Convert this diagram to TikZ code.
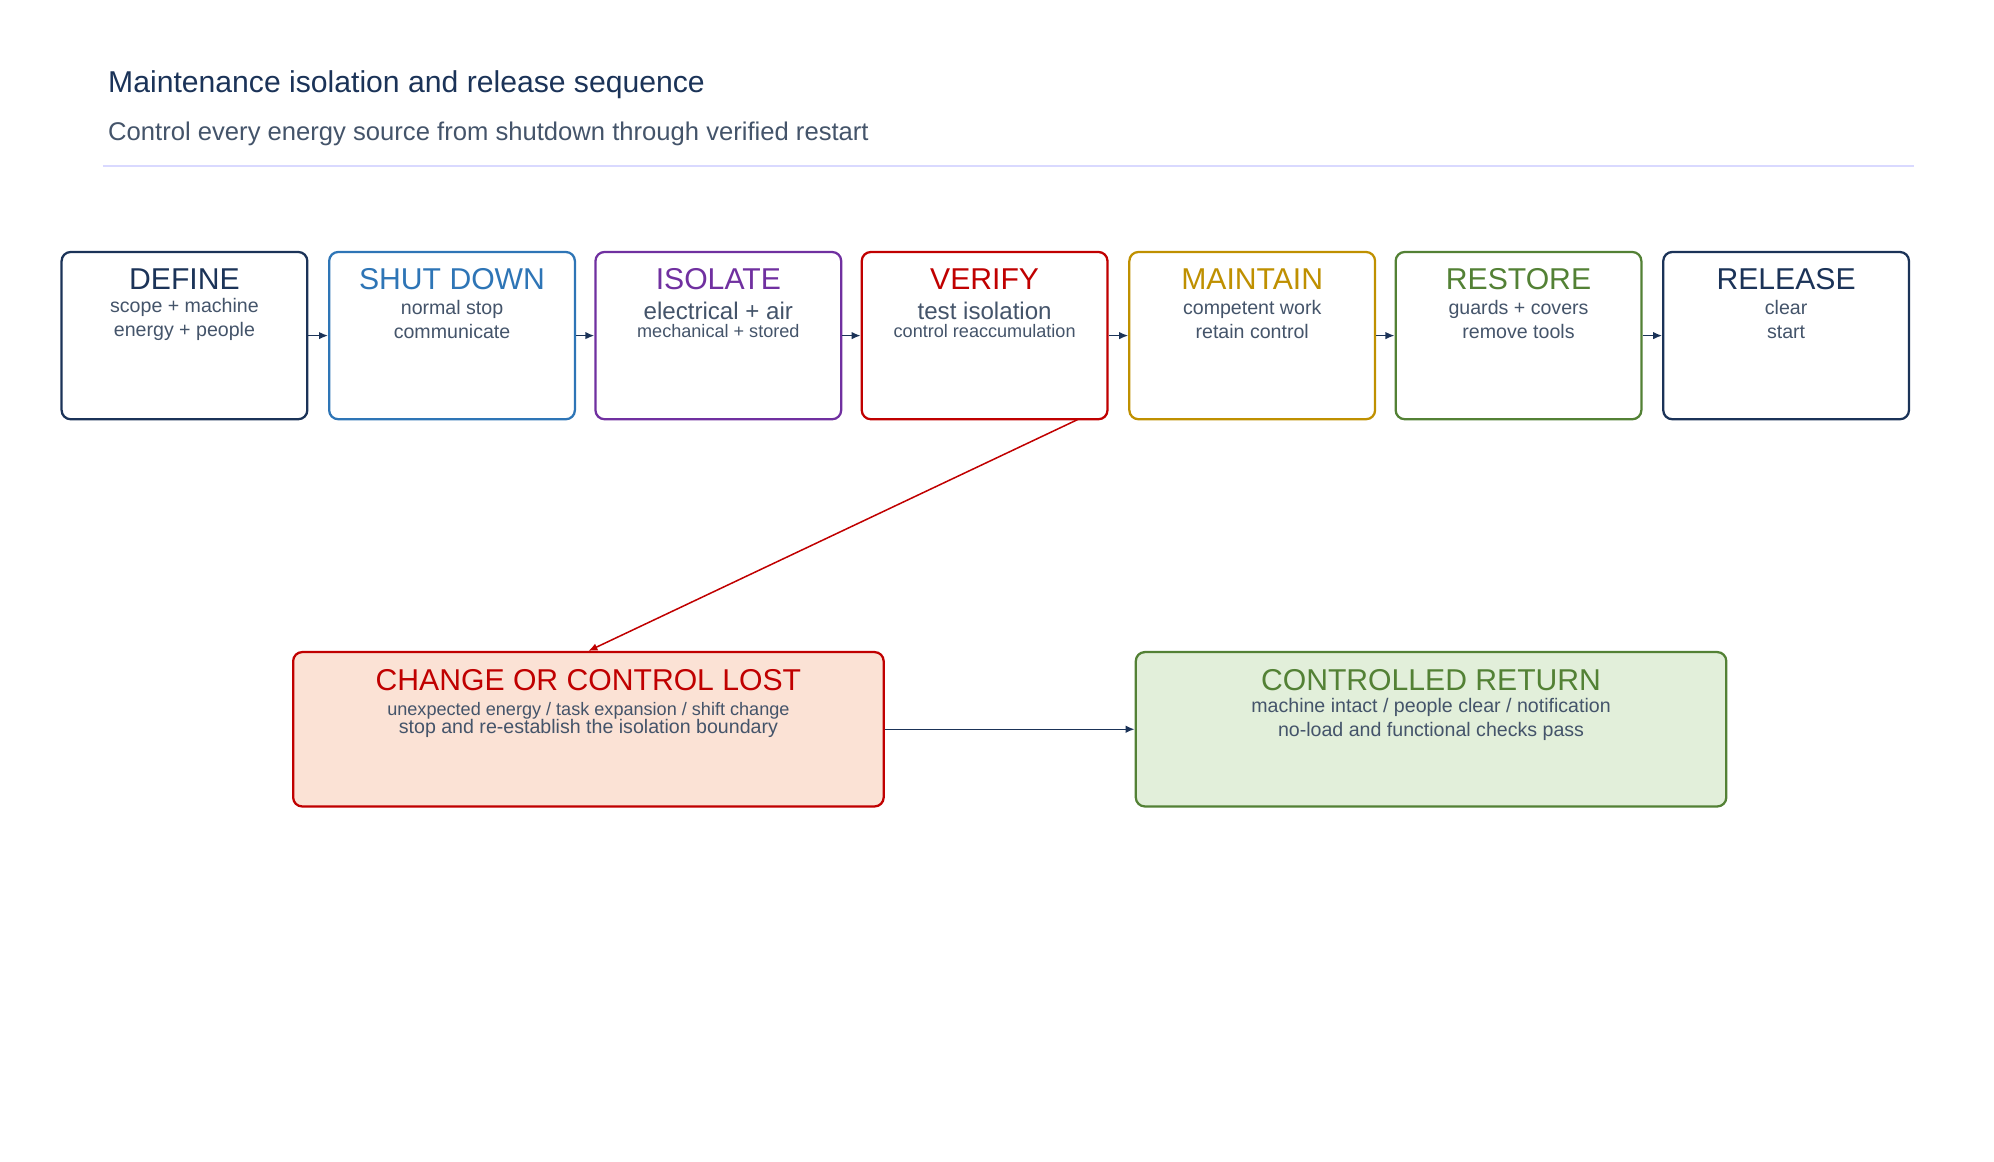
\documentclass[tikz,border=0pt]{standalone}
\usepackage{fontspec}
\setmainfont{Liberation Sans}
\usetikzlibrary{arrows.meta,positioning}
\definecolor{navy}{HTML}{1B3358}
\definecolor{sblue}{HTML}{2E75B6}
\definecolor{spurple}{HTML}{7030A0}
\definecolor{sred}{HTML}{C00000}
\definecolor{sgold}{HTML}{BF9000}
\definecolor{sgreen}{HTML}{538135}
\definecolor{sgray}{HTML}{44546A}
\definecolor{redfill}{HTML}{FBE2D5}
\definecolor{greenfill}{HTML}{E2EFDA}
\begin{document}
\begin{tikzpicture}
	[x=0.03cm,y=-0.03cm,
	stage/.style={rectangle,rounded corners=6pt,draw,line width=1.5pt,fill=white,
		minimum width=5.73cm,minimum height=3.9cm,anchor=north west},
	wide/.style={stage,minimum width=13.77cm,minimum height=3.6cm},
	head/.style={font=\fontsize{20}{22}\selectfont},
	sub/.style={font=\fontsize{13}{16}\selectfont,text=sgray,align=center},
	link/.style={-{Latex[length=6pt,width=5pt]},navy,line width=1pt}
	]
	\useasboundingbox (0,0) rectangle (1550,903);
	% heading
	\node[anchor=base west,text=navy,font=\fontsize{20}{22}\selectfont] (title) at (80,72){Maintenance isolation and release sequence};
	\node[anchor=base west,text=sgray,font=\fontsize{17}{20}\selectfont] (subtitle) at (80,109){Control every energy source from shutdown through verified restart};
	\draw[blue!15,line width=1pt] (80,129) -- (1488,129);

	% stages
	\node[stage,draw=navy] (define) at (47,195){};
	\node[stage,draw=sblue] (shut) at (255,195){};
	\node[stage,draw=spurple] (isolate) at (462,195){};
	\node[stage,draw=sred] (verify) at (669,195){};
	\node[stage,draw=sgold] (maintain) at (877,195){};
	\node[stage,draw=sgreen] (restore) at (1084,195){};
	\node[stage,draw=navy] (release) at (1292,195){};

	\foreach \n/\c/\t/\a/\b in {define/navy/DEFINE/scope + machine/energy + people,
		shut/sblue/SHUT DOWN/normal stop/communicate,
		maintain/sgold/MAINTAIN/competent work/retain control,
		restore/sgreen/RESTORE/guards + covers/remove tools,
		release/navy/RELEASE/clear/start}{
		\node[head,text=\c] at ([yshift=-0.66cm]\n.north){\t};
		\node[sub] at ([yshift=-1.6cm]\n.north){\a\\\b};
	}
	\node[head,text=spurple] at ([yshift=-0.66cm]isolate.north){ISOLATE};
	\node[align=center,text=sgray] at ([yshift=-1.6cm]isolate.north)
		{{\fontsize{16}{18}\selectfont electrical + air}\\{\fontsize{12}{15}\selectfont mechanical + stored}};
	\node[head,text=sred] at ([yshift=-0.66cm]verify.north){VERIFY};
	\node[align=center,text=sgray] at ([yshift=-1.6cm]verify.north)
		{{\fontsize{16}{18}\selectfont test isolation}\\{\fontsize{12}{15}\selectfont control reaccumulation}};

	\draw[link] (define) -- (shut);
	\draw[link] (shut) -- (isolate);
	\draw[link] (isolate) -- (verify);
	\draw[link] (verify) -- (maintain);
	\draw[link] (maintain) -- (restore);
	\draw[link] (restore) -- (release);

	% outcomes
	\node[wide,draw=sred,fill=redfill] (lost) at (227,506){};
	\node[head,text=sred] at ([yshift=-0.68cm]lost.north){CHANGE OR CONTROL LOST};
	\node[align=center,text=sgray] at ([yshift=-1.6cm]lost.north)
		{{\fontsize{12}{15}\selectfont unexpected energy / task expansion / shift change}\\{\fontsize{13}{16}\selectfont stop and re-establish the isolation boundary}};
	\node[wide,draw=sgreen,fill=greenfill] (return) at (882,506){};
	\node[head,text=sgreen] at ([yshift=-0.68cm]return.north){CONTROLLED RETURN};
	\node[sub] at ([yshift=-1.6cm]return.north){machine intact / people clear / notification\\no-load and functional checks pass};

	\coordinate (vfoot) at (838,326);
	\draw[link,sred] (vfoot) -- (lost.north);
	\draw[link] (lost) -- (return);
\end{tikzpicture}
\end{document}
